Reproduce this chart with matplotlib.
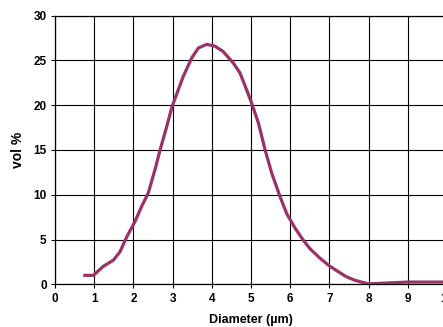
import matplotlib.pyplot as plt

plt.rcParams['font.family'] = ['Liberation Sans', 'DejaVu Sans']

# particle size distribution
diameter = [0.72, 0.98, 1.23, 1.49, 1.66, 1.83, 2.04, 2.21, 2.38, 2.55, 2.68, 2.83,
            2.99, 3.27, 3.49, 3.66, 3.87, 4.08, 4.29, 4.55, 4.72, 4.89, 5.02, 5.19,
            5.36, 5.53, 5.74, 5.91, 6.12, 6.33, 6.5, 6.75, 7.0, 7.23, 7.43, 7.65,
            7.86, 8.0, 8.5, 9.0, 9.5, 10.0]
vol_pct = [1.0, 1.0, 2.0, 2.7, 3.65, 5.3, 7.0, 8.7, 10.2, 12.8, 15.0, 17.3,
           19.9, 23.2, 25.3, 26.4, 26.8, 26.6, 26.0, 24.7, 23.6, 21.7, 20.2, 18.0,
           15.0, 12.4, 9.8, 7.9, 6.3, 4.95, 4.0, 2.95, 2.05, 1.4, 0.85, 0.45,
           0.2, 0.05, 0.15, 0.25, 0.25, 0.25]

x_ticks = list(range(0, 11))
y_ticks = list(range(0, 31, 5))

fig = plt.figure(figsize=(4.43, 3.27), dpi=100)
ax = fig.add_axes([55 / 443, 1 - 284.3 / 327, 392 / 443, 268.6 / 327])

ax.plot(diameter, vol_pct, color='#993366', lw=2.3, solid_joinstyle='round',
        solid_capstyle='butt', zorder=3)

ax.set_xlim(0, 10)
ax.set_ylim(0, 30)
ax.set_xticks(x_ticks)
ax.set_yticks(y_ticks)
ax.grid(True, color='black', lw=0.8)
ax.set_axisbelow(True)
for s in ax.spines.values():
    s.set_linewidth(0.9)
ax.tick_params(direction='out', length=3, width=0.8, labelsize=8.5, pad=3)
for lab in ax.get_xticklabels() + ax.get_yticklabels():
    lab.set_fontweight('bold')

ax.set_xlabel('Diameter (µm)', fontsize=9, fontweight='bold', labelpad=7)
ax.set_ylabel('vol %', fontsize=10, fontweight='bold', labelpad=6)

fig.savefig('out.png', dpi=100)
